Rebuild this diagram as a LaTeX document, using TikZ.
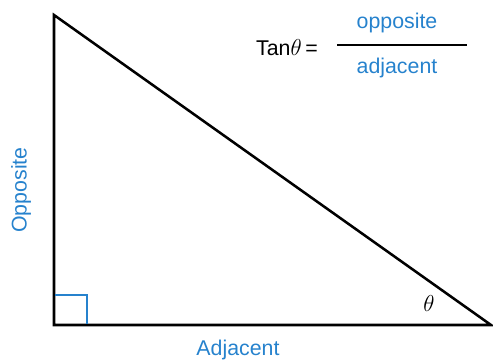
\documentclass[tikz,border=0pt]{standalone}
\usepackage{fontspec}
\setmainfont{Liberation Sans}
\definecolor{lblue}{RGB}{38,130,205}
\begin{document}
\begin{tikzpicture}[x=0.75pt,y=-0.75pt,
  side/.style={draw=black, line width=1.9pt},
  lbl/.style={text=lblue, font=\fontsize{16}{19}\selectfont, inner sep=0pt},
  txt/.style={font=\fontsize{16}{19}\selectfont, inner sep=0pt}
]
\useasboundingbox (0,0) rectangle (493,363);
% triangle
\coordinate (top) at (54,15);
\coordinate (rt) at (54,325);
\coordinate (far) at (491,325);
\draw[side] (top) -- (rt) -- (far) -- cycle;
\draw[lblue, line width=1.2pt] (55,295) -- (87,295) -- (87,324);
% side labels
\node[lbl, rotate=90] (opp) at (21,190) {Opposite};
\node[lbl] (adj) at (238,350) {Adjacent};
\node[txt] (ang) at (429,304) {$\theta$};
% formula
\node[txt, anchor=east] (tan) at (318,48) {Tan$\theta$\,=};
\node[lbl] (num) at (397,23) {opposite};
\node[lbl] (den) at (397,68) {adjacent};
\coordinate (barL) at (337,45);
\coordinate (barR) at (467,45);
\draw[line width=1.5pt] (barL) -- (barR);
\end{tikzpicture}
\end{document}
